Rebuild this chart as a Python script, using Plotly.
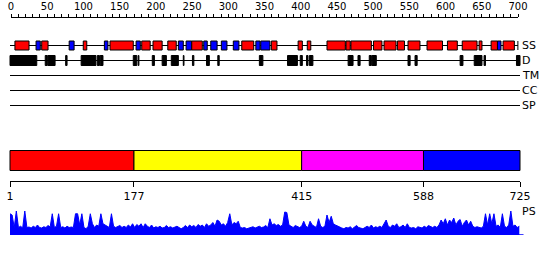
import plotly.graph_objects as go

# ---------------- data ----------------
seq_len = 725
# secondary structure elements (H = helix red, E = strand blue)
ss_start = [8, 38, 46, 85, 105, 135, 143, 180, 188, 204, 225, 240, 251, 259, 276, 286, 301, 318, 330, 350,
            357, 372, 410, 423, 451, 478, 485, 517, 532, 551, 566, 593, 622, 643, 667, 684, 693, 701]
ss_end = [28, 44, 55, 92, 110, 140, 176, 186, 200, 217, 237, 247, 259, 274, 281, 295, 309, 326, 347, 356,
          370, 380, 416, 428, 477, 484, 514, 529, 549, 561, 583, 615, 636, 664, 671, 693, 698, 717]
ss_type = ['H', 'E', 'H', 'E', 'H', 'E', 'H', 'E', 'H', 'H', 'H', 'E', 'E', 'H', 'E', 'E', 'E', 'E', 'H', 'E',
           'E', 'H', 'H', 'H', 'H', 'H', 'H', 'H', 'H', 'H', 'H', 'H', 'H', 'H', 'H', 'H', 'E', 'H']
ss_track_end = 722

# disordered regions
d_start = [1, 51, 55, 80, 102, 125, 129, 176, 183, 203, 217, 230, 247, 260, 280, 296, 355, 395, 413, 422,
           426, 481, 495, 511, 515, 566, 576, 640, 660, 674, 720]
d_end = [39, 54, 65, 82, 123, 128, 133, 181, 184, 206, 223, 240, 248, 262, 284, 298, 360, 409, 416, 424,
         431, 488, 498, 514, 521, 569, 579, 644, 671, 676, 725]

track_labels = ['SS', 'D', 'TM', 'CC', 'SP']

# domain boundaries
dom_bounds = [1, 177, 415, 588, 725]
dom_colors = ['#ff0000', '#ffff00', '#ff00ff', '#0000ff']

# top ruler
ruler_max = 700

# PS profile (every 3 residues)
ps_step = 3
ps_values = [
    0.85, 0.8, 0.3, 0.96, 0.3, 0.35, 0.28, 0.96, 0.3, 0.32,
    0.28, 0.35, 0.3, 0.4, 0.3, 0.28, 0.33, 0.3, 0.38, 0.32,
    0.85, 0.3, 0.35, 0.85, 0.3, 0.33, 0.28, 0.35, 0.3, 0.32,
    0.3, 0.85, 0.85, 0.4, 0.85, 0.3, 0.25, 0.35, 0.85, 0.45,
    0.3, 0.4, 0.35, 0.85, 0.45, 0.4, 0.35, 0.3, 0.85, 0.35,
    0.3, 0.33, 0.38, 0.3, 0.35, 0.3, 0.4, 0.32, 0.45, 0.3,
    0.42, 0.35, 0.45, 0.3, 0.45, 0.35, 0.3, 0.4, 0.28, 0.33,
    0.3, 0.35, 0.28, 0.3, 0.38, 0.3, 0.33, 0.28, 0.3, 0.35,
    0.3, 0.25, 0.3, 0.38, 0.3, 0.4, 0.33, 0.38, 0.3, 0.42,
    0.35, 0.4, 0.3, 0.45, 0.35, 0.4, 0.5, 0.35, 0.6, 0.55,
    0.4, 0.45, 0.35, 0.5, 0.85, 0.4, 0.5, 0.45, 0.55, 0.3,
    0.28, 0.3, 0.25, 0.28, 0.3, 0.33, 0.28, 0.3, 0.35, 0.3,
    0.32, 0.38, 0.3, 0.65, 0.4, 0.45, 0.38, 0.42, 0.35, 0.4,
    0.92, 0.9, 0.4, 0.35, 0.3, 0.38, 0.33, 0.3, 0.35, 0.55,
    0.35, 0.3, 0.55, 0.4, 0.35, 0.3, 0.65, 0.35, 0.3, 0.35,
    0.8, 0.5, 0.75, 0.45, 0.4, 0.35, 0.3, 0.28, 0.25, 0.3,
    0.28, 0.33, 0.25, 0.3, 0.38, 0.3, 0.28, 0.25, 0.3, 0.35,
    0.3, 0.4, 0.28, 0.33, 0.3, 0.35, 0.3, 0.45, 0.6, 0.35,
    0.3, 0.4, 0.35, 0.45, 0.3, 0.33, 0.4, 0.3, 0.45, 0.3,
    0.28, 0.3, 0.25, 0.33, 0.3, 0.28, 0.35, 0.3, 0.38, 0.33,
    0.3, 0.35, 0.3, 0.4, 0.6, 0.45, 0.65, 0.4, 0.6, 0.5,
    0.68, 0.4, 0.55, 0.62, 0.35, 0.5, 0.6, 0.4, 0.55, 0.35,
    0.3, 0.33, 0.3, 0.28, 0.35, 0.85, 0.4, 0.85, 0.45, 0.85,
    0.35, 0.4, 0.3, 0.85, 0.35, 0.3, 0.4, 0.96, 0.35, 0.4,
    0.3, 0.35,
]
ps_residues = [1 + ps_step * i for i in range(len(ps_values))]

# ---------------- layout geometry ----------------
W, H = 550, 260
px0, px1 = 10, 520                      # pixel span of residue 1..seq_len
k = (px1 - px0) / (seq_len - 1)
xlo = 1 - px0 / k
xhi = 1 + (W - px0) / k

track_y = [45.5, 60.5, 75.5, 90.5, 105.5]
FONT = "DejaVu Sans"

fig = go.Figure()
shapes = []
annotations = []

# track base lines
ends = [ss_track_end, seq_len, seq_len, seq_len, seq_len]
for yv, e in zip(track_y, ends):
    shapes.append(dict(type='line', xref='x', yref='y', x0=1, x1=e, y0=yv, y1=yv,
                       line=dict(color='black', width=1)))
shapes.append(dict(type='line', xref='x', yref='y', x0=ss_track_end, x1=ss_track_end,
                   y0=track_y[0] - 4.5, y1=track_y[0] + 4.5, line=dict(color='black', width=1)))

# SS elements
for s, e, t in zip(ss_start, ss_end, ss_type):
    shapes.append(dict(type='rect', xref='x', yref='y', x0=s, x1=e,
                       y0=track_y[0] - 4.5, y1=track_y[0] + 4.5,
                       fillcolor='#ff0000' if t == 'H' else '#0000ff',
                       line=dict(color='black', width=1)))
# disorder blocks
for s, e in zip(d_start, d_end):
    shapes.append(dict(type='rect', xref='x', yref='y', x0=s, x1=e,
                       y0=track_y[1] - 5, y1=track_y[1] + 5,
                       fillcolor='black', line=dict(color='black', width=1)))

for lab, yv in zip(track_labels, track_y):
    annotations.append(dict(x=seq_len, y=yv, xref='x', yref='y', text=lab, showarrow=False,
                            xanchor='left', yanchor='middle', xshift=0,
                            font=dict(family=FONT, size=11, color='black')))

# domain bar
for i, c in enumerate(dom_colors):
    shapes.append(dict(type='rect', xref='x', yref='y', x0=dom_bounds[i], x1=dom_bounds[i + 1],
                       y0=150.5, y1=170.5, fillcolor=c, line=dict(color='black', width=1)))

# PS profile
fig.add_trace(go.Scatter(x=ps_residues, y=ps_values, xaxis='x', yaxis='y2', mode='lines',
                         line=dict(color='#0000ff', width=1), fill='tozeroy',
                         fillcolor='#0000ff', hoverinfo='skip', showlegend=False))
shapes.append(dict(type='line', xref='x', yref='y2', x0=1, x1=seq_len + 5, y0=0, y1=0,
                   line=dict(color='#0000ff', width=1.5)))
annotations.append(dict(x=seq_len, y=0.95, xref='x', yref='y2', text='PS', showarrow=False,
                        xanchor='left', yanchor='middle', xshift=0,
                        font=dict(family=FONT, size=11, color='black')))

# dummy traces to instantiate ruler axes
fig.add_trace(go.Scatter(x=[0, ruler_max], y=[-10, -10], xaxis='x2', yaxis='y', mode='markers',
                         marker=dict(opacity=0), hoverinfo='skip', showlegend=False))
fig.add_trace(go.Scatter(x=[1, seq_len], y=[-10, -10], xaxis='x3', yaxis='y', mode='markers',
                         marker=dict(opacity=0), hoverinfo='skip', showlegend=False))

fig.update_layout(
    template='none',
    width=W, height=H, margin=dict(l=0, r=0, t=0, b=0, pad=0, autoexpand=False),
    paper_bgcolor='white', plot_bgcolor='rgba(0,0,0,0)', showlegend=False,
    xaxis=dict(range=[xlo, xhi], domain=[0, 1], visible=False, fixedrange=True, automargin=False),
    yaxis=dict(range=[H, 0], domain=[0, 1], visible=False, fixedrange=True, automargin=False),
    yaxis2=dict(range=[0, 1], domain=[25 / H, 50 / H], anchor='x', visible=False, automargin=False),
    xaxis2=dict(range=[0, ruler_max], domain=[11 / W, 518 / W], anchor='free', automargin=False,
                position=1 - 16.5 / H, side='top', showline=True, linecolor='black', linewidth=1,
                ticks='outside', ticklen=3, tickcolor='black', tickwidth=1, dtick=50, tick0=0,
                ticklabelstandoff=0,
                minor=dict(dtick=10, ticks='outside', ticklen=3, tickcolor='black', tickwidth=1,
                           showgrid=False),
                showgrid=False, zeroline=False,
                tickfont=dict(family=FONT, size=10, color='black')),
    xaxis3=dict(range=[1, seq_len], domain=[px0 / W, px1 / W], anchor='free', automargin=False,
                position=1 - 180.5 / H, side='bottom', showline=True, linecolor='black', linewidth=1,
                ticks='outside', ticklen=5, tickcolor='black', tickwidth=1,
                tickvals=dom_bounds, ticktext=[str(v) for v in dom_bounds],
                showgrid=False, zeroline=False,
                tickfont=dict(family=FONT, size=11, color='black')),
    shapes=shapes, annotations=annotations,
)

fig.write_html("out.html")
